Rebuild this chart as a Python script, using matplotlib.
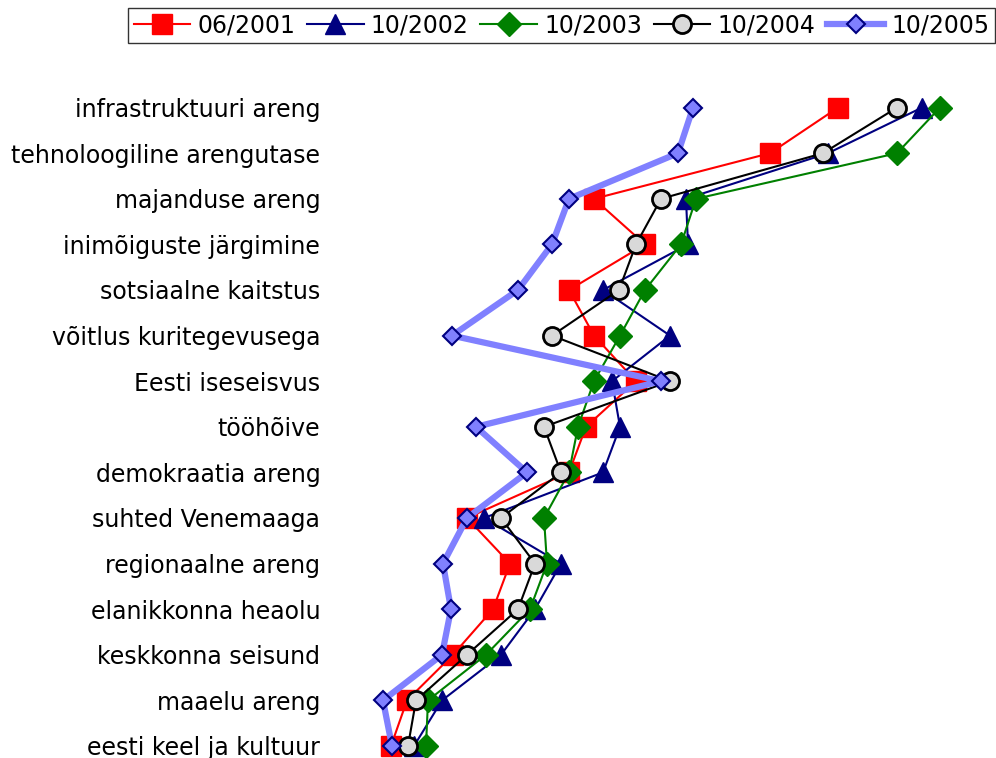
import matplotlib
matplotlib.use("Agg")
import matplotlib.pyplot as plt

categories = [
    "infrastruktuuri areng",
    "tehnoloogiline arengutase",
    "majanduse areng",
    "inimõiguste järgimine",
    "sotsiaalne kaitstus",
    "võitlus kuritegevusega",
    "Eesti iseseisvus",
    "tööhõive",
    "demokraatia areng",
    "suhted Venemaaga",
    "regionaalne areng",
    "elanikkonna heaolu",
    "keskkonna seisund",
    "maaelu areng",
    "eesti keel ja kultuur",
]

s2001 = [50.8, 44.0, 26.4, 31.5, 23.9, 26.4, 30.6, 25.6, 23.9, 13.7, 18.0, 16.3, 12.3, 7.7, 6.1]
s2002 = [59.2, 49.8, 35.6, 35.8, 27.3, 34.0, 28.2, 29.0, 27.3, 15.4, 23.1, 20.5, 17.1, 11.2, 8.4]
s2003 = [61.0, 56.7, 36.6, 35.1, 31.5, 29.0, 26.4, 24.8, 23.9, 21.4, 21.7, 20.0, 15.6, 9.8, 9.6]
s2004 = [56.7, 49.3, 33.1, 30.6, 28.9, 22.2, 34.0, 21.4, 23.1, 17.1, 20.5, 18.8, 13.7, 8.6, 7.8]
s2005 = [36.3, 34.8, 23.9, 22.2, 18.8, 12.2, 33.1, 14.6, 19.7, 13.7, 11.3, 12.1, 11.2, 5.3, 6.2]

labels = ["06/2001", "10/2002", "10/2003", "10/2004", "10/2005"]

fig = plt.figure(figsize=(9.96, 7.58), dpi=100)
# axes spans the plot area; the bottom row is partly cut off like the original
ax = fig.add_axes([330 / 996, 0, 666 / 996, 696 / 758])

ypos = list(range(len(categories)))

ax.plot(s2001, ypos, color="#ff0000", lw=1.5, marker="s", ms=14,
        mfc="#ff0000", mec="#ff0000", label=labels[0])
ax.plot(s2002, ypos, color="#000080", lw=1.5, marker="^", ms=15,
        mfc="#000080", mec="#000080", label=labels[1])
ax.plot(s2003, ypos, color="#008000", lw=1.5, marker="D", ms=12,
        mfc="#008000", mec="#008000", label=labels[2])
ax.plot(s2004, ypos, color="black", lw=1.5, marker="o", ms=13,
        mfc="#d9d9d9", mec="black", mew=2.0, label=labels[3])
ax.plot(s2005, ypos, color="#8080ff", lw=4.5, marker="D", ms=9,
        mfc="#8080ff", mec="#000080", mew=1.5, label=labels[4])

ax.set_xlim(0, 66.6)
ax.set_ylim(14 + 12 / 45.57, -1)
ax.set_yticks(ypos)
ax.set_yticklabels(categories, fontsize=17)
ax.tick_params(axis="y", length=0, pad=7)
ax.set_xticks([])
for sp in ax.spines.values():
    sp.set_visible(False)

leg = fig.legend(loc="upper right", bbox_to_anchor=(0.999, 0.99), ncol=5,
                 fontsize=17, frameon=True, fancybox=False, handlelength=2.4,
                 handletextpad=0.3, columnspacing=0.5, borderpad=0.25,
                 borderaxespad=0)
leg.get_frame().set_edgecolor("black")
leg.get_frame().set_linewidth(1.0)

fig.savefig("out.png", dpi=100)
